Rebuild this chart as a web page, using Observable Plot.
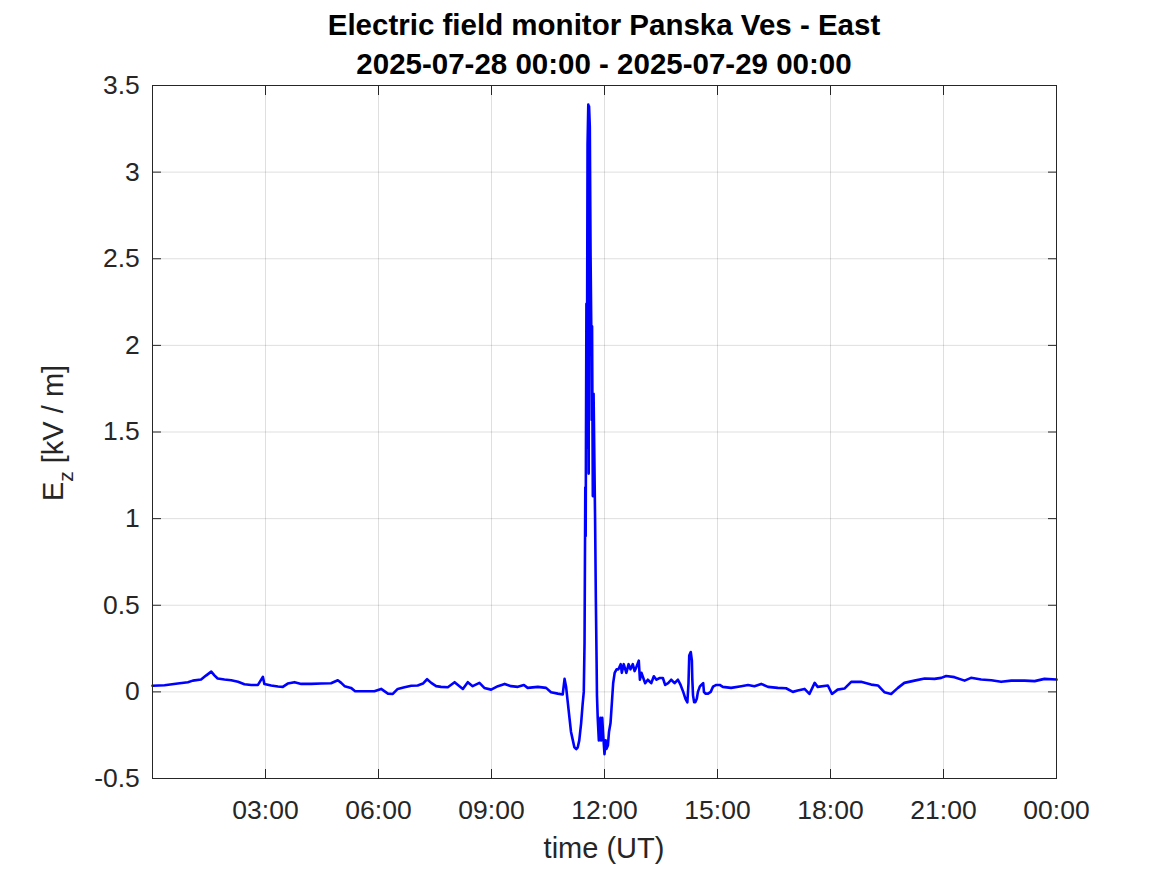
<!DOCTYPE html>
<html><head><meta charset="utf-8">
<script src="https://cdn.jsdelivr.net/npm/d3@7"></script>
<script src="https://cdn.jsdelivr.net/npm/@observablehq/plot@0.6"></script>
<style>body{margin:0;background:#fff} #chart svg{display:block}</style>
</head><body><div id="chart"></div>
<script>
const titleLines = ["Electric field monitor Panska Ves - East", "2025-07-28 00:00 - 2025-07-29 00:00"];
const xLabel = "time (UT)";
const yLabelMain = "E", yLabelSub = "z", yLabelUnit = " [kV / m]";
const xTicks = [3, 6, 9, 12, 15, 18, 21, 24];
const xTickLabels = ["03:00", "06:00", "09:00", "12:00", "15:00", "18:00", "21:00", "00:00"];
const yTicks = [-0.5, 0, 0.5, 1, 1.5, 2, 2.5, 3, 3.5];
const yTickLabels = ["-0.5", "0", "0.5", "1", "1.5", "2", "2.5", "3", "3.5"];

// time in hours since 2025-07-28 00:00 UT
const hours = [
  0.0, 0.32, 0.67, 0.94, 1.07, 1.29, 1.42, 1.56, 1.65, 1.73, 1.91, 2.09, 2.27, 2.44, 2.62, 2.80, 2.93, 2.97,
  3.15, 3.33, 3.46, 3.59, 3.77, 3.95, 4.21, 4.48, 4.74, 4.92, 5.01, 5.10, 5.27, 5.38, 5.50, 5.72, 5.89,
  6.07, 6.25, 6.38, 6.51, 6.69, 6.87, 7.04, 7.18, 7.29, 7.40, 7.53, 7.66, 7.84, 8.02, 8.15, 8.24, 8.37,
  8.50, 8.68, 8.81, 8.99, 9.17, 9.35, 9.52, 9.70, 9.86, 9.96, 10.23, 10.45, 10.58, 10.76, 10.89, 10.94,
  10.98, 11.02, 11.07, 11.11, 11.16, 11.20, 11.25, 11.29, 11.33, 11.38, 11.42, 11.45, 11.47, 11.49, 11.50,
  11.52, 11.53, 11.55, 11.57, 11.58, 11.59, 11.61, 11.63, 11.65, 11.66, 11.67, 11.69, 11.71, 11.73, 11.75,
  11.77, 11.79, 11.80, 11.82, 11.85, 11.88, 11.89, 11.91, 11.94, 11.96, 12.00, 12.03, 12.05, 12.09, 12.12,
  12.16, 12.20, 12.23, 12.27, 12.32, 12.37, 12.43, 12.46, 12.51, 12.58, 12.64, 12.69, 12.75, 12.80, 12.84,
  12.91, 12.94, 12.98, 13.03, 13.08, 13.15, 13.24, 13.31, 13.38, 13.46, 13.55, 13.61, 13.69, 13.77, 13.86,
  13.95, 14.02, 14.09, 14.15, 14.20, 14.23, 14.25, 14.29, 14.32, 14.33, 14.35, 14.38, 14.41, 14.45, 14.48,
  14.53, 14.57, 14.62, 14.64, 14.68, 14.75, 14.82, 14.88, 14.97, 15.06, 15.14, 15.36, 15.63, 15.81, 15.98,
  16.16, 16.34, 16.60, 16.82, 17.00, 17.13, 17.31, 17.44, 17.58, 17.66, 17.93, 18.04, 18.19, 18.37, 18.55,
  18.81, 19.08, 19.26, 19.43, 19.61, 19.79, 19.96, 20.23, 20.50, 20.76, 20.94, 21.07, 21.29, 21.56, 21.73,
  22.00, 22.27, 22.53, 22.80, 23.15, 23.42, 23.68, 24.00
];
// vertical electric field Ez in kV/m
const ez = [
  0.035, 0.038, 0.048, 0.056, 0.065, 0.071, 0.094, 0.117, 0.094, 0.077, 0.071, 0.067, 0.058, 0.044, 0.040, 0.040, 0.087, 0.046,
  0.037, 0.031, 0.029, 0.048, 0.056, 0.046, 0.046, 0.048, 0.050, 0.067, 0.052, 0.033, 0.023, 0.004, 0.004, 0.004, 0.004,
  0.017, -0.010, -0.012, 0.017, 0.027, 0.035, 0.037, 0.048, 0.073, 0.052, 0.033, 0.029, 0.027, 0.056, 0.033, 0.017, 0.056,
  0.033, 0.052, 0.023, 0.013, 0.033, 0.046, 0.033, 0.029, 0.040, 0.023, 0.029, 0.023, -0.002, -0.010, -0.015, 0.075,
  0.030, -0.050, -0.150, -0.230, -0.280, -0.320, -0.330, -0.320, -0.280, -0.180, -0.070, 0.000, 0.280, 1.180, 0.900,
  2.240, 1.410, 3.160, 3.390, 1.260, 3.380, 3.260, 2.520, 2.080, 1.570, 2.110, 1.130, 1.720, 1.360, 1.000,
  0.540, 0.180, -0.020, -0.150, -0.280, -0.180, -0.150, -0.280, -0.150, -0.230, -0.360, -0.280, -0.330, -0.310, -0.230,
  -0.180, -0.050, 0.050, 0.110, 0.130, 0.130, 0.160, 0.110, 0.160, 0.110, 0.160, 0.130, 0.160, 0.120, 0.140,
  0.180, 0.070, 0.110, 0.080, 0.050, 0.070, 0.050, 0.090, 0.070, 0.080, 0.080, 0.040, 0.050, 0.070, 0.050,
  0.070, 0.040, 0.000, -0.040, -0.060, 0.050, 0.210, 0.230, 0.180, 0.080, -0.020, -0.060, -0.060, -0.040, 0.000,
  0.030, 0.040, 0.050, 0.000, -0.010, -0.010, 0.000, 0.030, 0.040, 0.040, 0.029, 0.023, 0.033, 0.040, 0.033,
  0.046, 0.029, 0.023, 0.021, 0.000, 0.008, 0.017, -0.012, 0.052, 0.029, 0.037, -0.012, 0.013, 0.019, 0.058,
  0.058, 0.042, 0.037, -0.002, -0.012, 0.023, 0.052, 0.065, 0.077, 0.075, 0.081, 0.092, 0.085, 0.065, 0.081,
  0.071, 0.067, 0.058, 0.065, 0.065, 0.062, 0.075, 0.071
];

const data = hours.map((h, i) => ({h, v: ez[i]}));
const font = '"Liberation Sans", Arial, Helvetica, sans-serif';
const ink = "#262626";

const plot = Plot.plot({
  width: 1167, height: 875,
  marginLeft: 152, marginRight: 111, marginTop: 85, marginBottom: 97,
  style: {fontFamily: font, fontSize: "26.5px", color: ink, background: "#fff", overflow: "visible"},
  x: {domain: [0, 24]},
  y: {domain: [-0.5, 3.5]},
  marks: [
    Plot.gridX(xTicks, {stroke: ink, strokeOpacity: 0.15, strokeWidth: 1}),
    Plot.gridY(yTicks, {stroke: ink, strokeOpacity: 0.15, strokeWidth: 1}),
    Plot.line(data, {x: "h", y: "v", stroke: "#0000ff", strokeWidth: 2.6}),
    Plot.frame({stroke: ink, strokeWidth: 1}),
    Plot.axisX(xTicks, {anchor: "bottom", tickSize: -9, tickPadding: 30.5, label: null,
      tickFormat: d => xTickLabels[xTicks.indexOf(d)], fill: ink}),
    Plot.axisX(xTicks, {anchor: "top", tickSize: -9, label: null, tickFormat: () => ""}),
    Plot.axisY(yTicks, {anchor: "left", tickSize: -9, tickPadding: 21.7, label: null,
      tickFormat: d => yTickLabels[yTicks.indexOf(d)], fill: ink}),
    Plot.axisY(yTicks, {anchor: "right", tickSize: -9, label: null, tickFormat: () => ""})
  ]
});

const svg = d3.select(plot);
const title = svg.append("g").attr("font-family", font).attr("font-weight", "bold")
  .attr("font-size", 29.5).attr("fill", "#000").attr("text-anchor", "middle");
title.append("text").attr("x", 604).attr("y", 35).text(titleLines[0]);
title.append("text").attr("x", 604).attr("y", 74).text(titleLines[1]);

svg.append("text").attr("x", 604).attr("y", 858).attr("text-anchor", "middle")
  .attr("font-family", font).attr("font-size", 29).attr("fill", ink).text(xLabel);

const yl = svg.append("text").attr("transform", "translate(63,433) rotate(-90)")
  .attr("text-anchor", "middle").attr("font-family", font).attr("font-size", 29).attr("fill", ink);
yl.append("tspan").text(yLabelMain);
yl.append("tspan").attr("dy", 9.5).attr("font-size", 21).text(yLabelSub);
yl.append("tspan").attr("dy", -9.5).text(yLabelUnit);

document.getElementById("chart").append(plot);
</script>
</body></html>
